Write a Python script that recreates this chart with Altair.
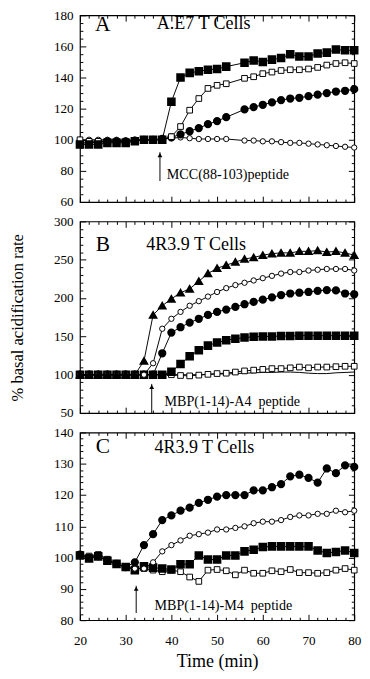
import altair as alt
import pandas as pd

FONT = "Liberation Serif"

# ---------------- data ----------------
TIME = [20, 22, 24, 26, 28, 30, 32, 34, 36, 38, 40, 42, 44, 46, 48, 50,
        52, 54, 56, 58, 60, 62, 64, 66, 68, 70, 72, 74, 76, 78, 80]
TIME_A = [20, 22, 24, 26, 28, 30, 32, 34, 36, 38, 40, 42, 44, 46, 48, 50,
          52, 56, 58, 60, 62, 64, 66, 68, 70, 72, 74, 76, 78, 80]

# Panel A  (A.E7 T cells, MCC(88-103) peptide)
A_FILLED_SQ = [97, 97, 97, 98, 98, 98, 99, 100, 100, 100, 124.5, 140, 143, 144, 145,
               145.5, 147, 149.5, 151, 150, 151.5, 152.5, 155, 153.5, 153.5, 155.5,
               156, 158, 157.5, 157.5]
A_OPEN_SQ = [100, 99, 99, 99, 99, 99, 99.5, 100, 100, 100, 102, 108.5, 119, 126.5, 133,
             135, 136, 139.5, 140.5, 142.5, 143.5, 144.5, 145, 145, 145.5, 146.5, 148,
             149, 149.5, 149]
A_FILLED_CIRC = [98, 98, 98.5, 99, 99, 99, 99.5, 100, 100, 100.5, 101.5, 103.5, 105.5,
                 107.5, 110, 112, 114.5, 119.5, 121, 122.5, 124, 125.5, 126.5, 127, 128,
                 129, 130, 131, 131.5, 132.5]
A_OPEN_CIRC = [100, 100, 100, 100, 100, 99.5, 100, 100, 100, 100.5, 101, 101.5, 101,
               100.5, 100.5, 100.5, 100.5, 99.5, 99.5, 99, 99, 98.5, 98, 98, 97.5, 97,
               96.5, 96, 95.5, 95]

# Panel B  (4R3.9 T cells, MBP(1-14)-A4 peptide)
B_TRI = [100, 100, 100, 100, 100, 100, 100, 118, 178, 190, 199, 207, 212, 222, 232,
         239, 243, 247, 251, 253, 256, 258, 259, 259, 261, 261, 262, 260, 261, 259, 256]
B_OPEN_CIRC = [100, 100, 100, 100, 100, 100, 100, 100, 115, 160, 173, 182, 190, 196, 202,
               208, 213, 217, 220, 223, 226, 229, 232, 234, 234, 236, 237, 238, 238, 238, 236]
B_FILLED_CIRC = [100, 100, 100, 100, 100, 100, 100, 100, 100, 128, 155, 162, 168, 173, 178,
                 182, 185, 188.5, 192, 195, 198, 201, 204, 206, 207, 208, 209.5, 210.5,
                 210, 206, 205]
B_FILLED_SQ = [100, 100, 100, 100, 100, 100, 100, 100, 100, 100, 104, 114, 124, 132, 138,
               142, 145, 147, 148.5, 149.5, 150, 150, 150.5, 150.5, 151, 151, 151, 151,
               151, 151, 151]
B_OPEN_SQ = [100, 100, 100, 100, 100, 100, 100, 100, 100, 100, 100, 99, 98.5, 99.5, 100.5,
             101.5, 102, 103.5, 105, 106, 107, 108, 108, 109, 110, 109, 110, 110, 110.5,
             111, 111]
B_LINE = [100, 100, 100, 100, 100, 100, 100, 100, 100, 100, 100, 100, 100, 100, 100.5,
          101, 101, 101.5, 102, 102.5, 103, 103, 103.5, 103.5, 103, 102, 101.5, 101.5,
          102.5, 103, 103.5]

# Panel C  (4R3.9 T cells, MBP(1-14)-M4 peptide)
C_FILLED_CIRC = [101, 100, 100.5, 99, 98, 97, 98.5, 104, 107.5, 112, 113.5, 115, 116,
                 117.5, 118.5, 119.5, 120, 120, 120, 121.5, 121.5, 122.5, 123.5, 126,
                 126.5, 125.5, 124, 128.5, 127, 129.5, 129]
C_OPEN_CIRC = [100.5, 100, 100.5, 99, 98, 97, 96.5, 96.5, 98.5, 102, 104, 105.5, 107,
               107.5, 108, 109, 109, 109.5, 110, 111, 111.5, 111.5, 112, 113, 113.5,
               113.5, 114, 114, 115, 114.5, 115]
C_FILLED_SQ = [100.7, 99.7, 100.4, 99, 98, 97, 96, 97.2, 96.8, 96.5, 96.2, 97.9, 97.9,
               100.7, 99.4, 99.4, 100.7, 100.7, 102, 102.5, 103.4, 103.6, 103.6, 103.6,
               103.6, 103.6, 102.3, 101.5, 101.8, 102.3, 101.5]
C_OPEN_SQ = [101, 100.5, 101, 99.5, 98, 97, 96.5, 96.5, 96, 95.5, 96, 95.5, 93.8, 92.4,
             96, 96.2, 95.8, 94.5, 96, 95, 95, 95.8, 95.5, 96.2, 95.2, 95.2, 95, 95.2,
             96, 96.5, 96]

# axis tick values
X_MAJOR = [20, 30, 40, 50, 60, 70, 80]
X_MINOR = [22, 24, 26, 28, 32, 34, 36, 38, 42, 44, 46, 48, 52, 54, 56, 58,
           62, 64, 66, 68, 72, 74, 76, 78]
A_Y_MAJOR = [60, 80, 100, 120, 140, 160, 180]
A_Y_MINOR = [65, 70, 75, 85, 90, 95, 105, 110, 115, 125, 130, 135, 145, 150, 155,
             165, 170, 175]
B_Y_MAJOR = [50, 100, 150, 200, 250, 300]
B_Y_MINOR = [60, 70, 80, 90, 110, 120, 130, 140, 160, 170, 180, 190, 210, 220, 230,
             240, 260, 270, 280, 290]
C_Y_MAJOR = [80, 90, 100, 110, 120, 130, 140]
C_Y_MINOR = [82, 84, 86, 88, 92, 94, 96, 98, 102, 104, 106, 108, 112, 114, 116, 118,
             122, 124, 126, 128, 132, 134, 136, 138]

# annotations: panel letter, cell label, peptide label, arrow
A_LETTER = {"t": 25, "v": 174, "text": "A"}
A_CELLS = {"t": 36.8, "v": 175, "text": "A.E7 T Cells"}
A_PEPTIDE = {"t": 39, "v": 77, "text": "MCC(88-103)peptide"}
A_ARROW = {"t": 37.5, "v": 73.5, "v2": 92}

B_LETTER = {"t": 25, "v": 270, "text": "B"}
B_CELLS = {"t": 34.5, "v": 270.5, "text": "4R3.9 T Cells"}
B_PEPTIDE = {"t": 38.5, "v": 64, "text": "MBP(1-14)-A4\u00a0 peptide"}
B_ARROW = {"t": 35.7, "v": 50, "v2": 88}

C_LETTER = {"t": 25, "v": 135.6, "text": "C"}
C_CELLS = {"t": 36.3, "v": 135.3, "text": "4R3.9 T Cells"}
C_PEPTIDE = {"t": 36.3, "v": 84.5, "text": "MBP(1-14)-M4\u00a0 peptide"}
C_ARROW = {"t": 32.3, "v": 82.3, "v2": 91}

WIDTH = 282
HEIGHTS = (192, 197, 193)

STYLES = {
    "filled_sq": dict(shape="square", filled=True, size=46, fill="black", stroke="black"),
    "open_sq": dict(shape="square", filled=True, size=34, fill="white", stroke="black", strokeWidth=1),
    "filled_circ": dict(shape="circle", filled=True, size=42, fill="black", stroke="black"),
    "open_circ": dict(shape="circle", filled=True, size=30, fill="white", stroke="black", strokeWidth=1),
    "filled_tri": dict(shape="triangle-up", filled=True, size=44, fill="black", stroke="black"),
}


def xenc(axis=None):
    return alt.X("t:Q", scale=alt.Scale(domain=[20, 80], nice=False, zero=False), axis=axis)


def yenc(dom, axis=None):
    return alt.Y("v:Q", scale=alt.Scale(domain=dom, nice=False, zero=False), axis=axis)


def ax(orient, values, major, labels=False, **kw):
    return alt.Axis(orient=orient, values=values, labels=labels, ticks=True,
                    tickSize={"expr": "-6"} if major else {"expr": "-3"},
                    tickColor="black", tickWidth=1, domain=False, grid=False,
                    labelFlush=False, labelOverlap=False, minExtent=0,
                    labelFont=FONT, labelFontSize=13.5, labelColor="black",
                    titleFont=FONT, titleFontWeight="normal", titleColor="black",
                    **kw)


def panel(series, dom, ymaj, ymin, letter, cells, peptide, arrow, height,
          ytitle=None, xlabels=False):
    df0 = pd.DataFrame({"t": series[0][0], "v": series[0][1]})
    layers = []
    # axis layers
    xmain_kw = dict(title=None)
    if xlabels:
        xmain_kw = dict(title="Time (min)", labelPadding=20, titlePadding=5,
                        titleFontSize=18.5)
    ymain_kw = dict(title=None, labelPadding=13)
    if ytitle:
        ymain_kw = dict(title=ytitle, labelPadding=13, titlePadding=28, titleFontSize=17)
    base0 = alt.Chart(df0).mark_point(opacity=0)
    layers.append(base0.encode(
        x=xenc(ax("bottom", X_MAJOR, True, labels=xlabels, **xmain_kw)),
        y=yenc(dom, ax("left", ymaj, True, labels=True, **ymain_kw))))
    layers.append(base0.encode(
        x=xenc(ax("bottom", X_MINOR, False, title=None)),
        y=yenc(dom, ax("left", ymin, False, title=None))))
    layers.append(base0.encode(
        x=xenc(ax("top", X_MAJOR, True, title=None)),
        y=yenc(dom, ax("right", ymaj, True, title=None))))
    layers.append(base0.encode(
        x=xenc(ax("top", X_MINOR, False, title=None)),
        y=yenc(dom, ax("right", ymin, False, title=None))))

    # data series
    for t, v, style in series:
        df = pd.DataFrame({"t": t, "v": v})
        layers.append(alt.Chart(df).mark_line(color="black", strokeWidth=1).encode(
            x=xenc(), y=yenc(dom)))
        if style is not None:
            layers.append(alt.Chart(df).mark_point(opacity=1, **STYLES[style]).encode(
                x=xenc(), y=yenc(dom)))

    # arrow
    adf = pd.DataFrame([arrow])
    layers.append(alt.Chart(adf).mark_rule(color="black", strokeWidth=1).encode(
        x=xenc(), y=yenc(dom), y2="v2:Q"))
    layers.append(alt.Chart(adf).mark_point(shape="triangle-up", filled=True, size=24,
                                            color="black", opacity=1, yOffset=3).encode(
        x=xenc(), y=alt.Y("v2:Q", scale=alt.Scale(domain=dom, nice=False, zero=False), axis=None)))

    # texts
    layers.append(alt.Chart(pd.DataFrame([letter])).mark_text(
        font=FONT, fontSize=22, color="black", align="center", baseline="middle").encode(
        x=xenc(), y=yenc(dom), text="text:N"))
    layers.append(alt.Chart(pd.DataFrame([cells])).mark_text(
        font=FONT, fontSize=18.5, color="black", align="left", baseline="middle").encode(
        x=xenc(), y=yenc(dom), text="text:N"))
    layers.append(alt.Chart(pd.DataFrame([peptide])).mark_text(
        font=FONT, fontSize=14.5, color="black", align="left", baseline="middle").encode(
        x=xenc(), y=yenc(dom), text="text:N"))

    return alt.layer(*layers).resolve_axis(x="independent", y="independent").properties(
        width=WIDTH, height=height)


pA = panel([(TIME_A, A_OPEN_CIRC, "open_circ"), (TIME_A, A_FILLED_CIRC, "filled_circ"),
            (TIME_A, A_OPEN_SQ, "open_sq"), (TIME_A, A_FILLED_SQ, "filled_sq")],
           [60, 180], A_Y_MAJOR, A_Y_MINOR, A_LETTER, A_CELLS, A_PEPTIDE, A_ARROW, HEIGHTS[0])

pB = panel([(TIME, B_LINE, None), (TIME, B_OPEN_SQ, "open_sq"), (TIME, B_FILLED_SQ, "filled_sq"),
            (TIME, B_FILLED_CIRC, "filled_circ"), (TIME, B_OPEN_CIRC, "open_circ"),
            (TIME, B_TRI, "filled_tri")],
           [50, 300], B_Y_MAJOR, B_Y_MINOR, B_LETTER, B_CELLS, B_PEPTIDE, B_ARROW, HEIGHTS[1],
           ytitle="% basal acidification rate")

pC = panel([(TIME, C_OPEN_SQ, "open_sq"), (TIME, C_FILLED_SQ, "filled_sq"),
            (TIME, C_OPEN_CIRC, "open_circ"), (TIME, C_FILLED_CIRC, "filled_circ")],
           [80, 140], C_Y_MAJOR, C_Y_MINOR, C_LETTER, C_CELLS, C_PEPTIDE, C_ARROW, HEIGHTS[2],
           xlabels=True)

chart = alt.vconcat(pA, pB, pC, spacing=20, bounds="flush").configure_view(
    stroke="black", strokeWidth=1.2
).configure_axis(
    labelFont=FONT, labelFontSize=13.5, titleFont=FONT, titleFontSize=16,
    titleFontWeight="normal", labelColor="black", titleColor="black"
).properties(padding={"left": 0, "top": -10, "right": 0, "bottom": 0})

chart.save("out.html", embed_options={"renderer": "svg", "actions": False})
